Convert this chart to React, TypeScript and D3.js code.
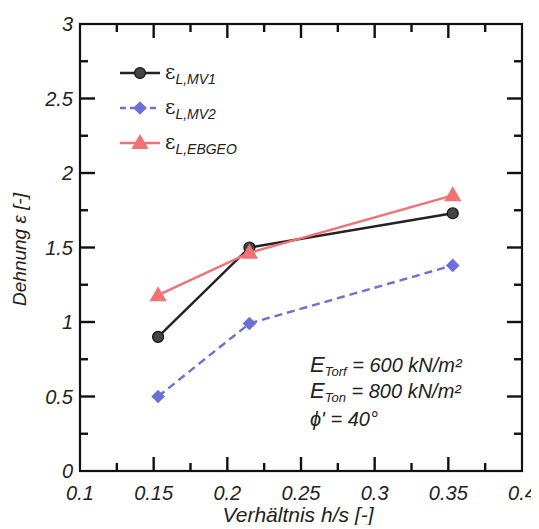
import React, { useEffect, useRef } from 'react';
import * as d3 from 'd3';

const ratios = [0.153, 0.215, 0.353];
const strainMV1 = [0.9, 1.5, 1.73];
const strainMV2 = [0.5, 0.99, 1.38];
const strainEBGEO = [1.18, 1.465, 1.85];
const xTicks = [0.1, 0.15, 0.2, 0.25, 0.3, 0.35, 0.4];
const yTicks = [0, 0.5, 1, 1.5, 2, 2.5, 3];

const series = [
  { sub: 'L,MV1', values: strainMV1, color: '#222222', marker: 'circle', dash: null },
  { sub: 'L,MV2', values: strainMV2, color: '#6c70d6', marker: 'diamond', dash: '8,5' },
  { sub: 'L,EBGEO', values: strainEBGEO, color: '#f07272', marker: 'triangle', dash: null },
];

const FONT = 'Liberation Sans, Arial, sans-serif';

export default function App() {
  const ref = useRef<SVGSVGElement>(null);

  useEffect(() => {
    const width = 539;
    const height = 529;
    const margin = { top: 24, left: 80, bottom: 58, right: 17 };
    const iwidth = width - margin.left - margin.right;
    const iheight = height - margin.top - margin.bottom;

    const svg = d3.select(ref.current);
    svg.selectAll('*').remove();
    svg.attr('width', width).attr('height', height);

    const g = svg.append('g').attr('transform', `translate(${margin.left},${margin.top})`);

    const x = d3.scaleLinear().domain([0.1, 0.4]).range([0, iwidth]);
    const y = d3.scaleLinear().domain([0, 3]).range([iheight, 0]);

    g.append('rect')
      .attr('width', iwidth)
      .attr('height', iheight)
      .attr('fill', 'none')
      .attr('stroke', '#111')
      .attr('stroke-width', 2.2);

    // inward ticks on all four sides
    const xMajor = xTicks.slice(1, -1);
    const yMajor = yTicks.slice(1, -1);
    const xMinor = d3.range(0.125, 0.4, 0.05);
    const yMinor = d3.range(0.25, 3, 0.5);
    const ticks = g.append('g');
    const tick = (ax, ay, bx, by) =>
      ticks.append('line')
        .attr('x1', ax).attr('y1', ay).attr('x2', bx).attr('y2', by)
        .attr('stroke', '#111').attr('stroke-width', 2.4);
    xMajor.forEach((t) => {
      tick(x(t), iheight, x(t), iheight - 14);
      tick(x(t), 0, x(t), 14);
    });
    xMinor.forEach((t) => {
      tick(x(t), iheight, x(t), iheight - 8);
      tick(x(t), 0, x(t), 8);
    });
    yMajor.forEach((t) => {
      tick(0, y(t), 15, y(t));
      tick(iwidth, y(t), iwidth - 15, y(t));
    });
    yMinor.forEach((t) => {
      tick(0, y(t), 8, y(t));
      tick(iwidth, y(t), iwidth - 8, y(t));
    });

    // tick labels
    g.selectAll('.xl')
      .data(xTicks)
      .enter()
      .append('text')
      .attr('x', (d) => x(d))
      .attr('y', iheight + 29)
      .attr('text-anchor', 'middle')
      .attr('font-family', FONT)
      .attr('font-style', 'italic')
      .attr('font-size', 20)
      .attr('fill', '#222')
      .text((d) => String(d));

    g.selectAll('.yl')
      .data(yTicks)
      .enter()
      .append('text')
      .attr('x', -7)
      .attr('y', (d) => y(d) + 7)
      .attr('text-anchor', 'end')
      .attr('font-family', FONT)
      .attr('font-style', 'italic')
      .attr('font-size', 20)
      .attr('fill', '#222')
      .text((d) => String(d));

    // axis titles
    svg.append('text')
      .attr('x', margin.left + iwidth / 2 - 3)
      .attr('y', height - 7)
      .attr('text-anchor', 'middle')
      .attr('font-family', FONT)
      .attr('font-style', 'italic')
      .attr('font-size', 21)
      .attr('fill', '#222')
      .text('Verhältnis h/s [-]');

    svg.append('text')
      .attr('transform', `translate(26,${margin.top + iheight / 2 + 2}) rotate(-90)`)
      .attr('text-anchor', 'middle')
      .attr('font-family', FONT)
      .attr('font-style', 'italic')
      .attr('font-size', 19)
      .attr('fill', '#222')
      .text('Dehnung ε [-]');

    const drawMarker = (sel, type, color, cx, cy) => {
      if (type === 'circle') {
        sel.append('circle').attr('cx', cx).attr('cy', cy).attr('r', 5.5).attr('fill', '#444').attr('stroke', '#111').attr('stroke-width', 1.2);
      } else if (type === 'diamond') {
        sel.append('path')
          .attr('d', d3.symbol().type(d3.symbolDiamond2).size(120)())
          .attr('transform', `translate(${cx},${cy})`)
          .attr('fill', color);
      } else {
        sel.append('path')
          .attr('d', d3.symbol().type(d3.symbolTriangle).size(130)())
          .attr('transform', `translate(${cx},${cy + 1})`)
          .attr('fill', color);
      }
    };

    const line = d3.line<number>().x((d, i) => x(ratios[i])).y((d) => y(d));

    series.forEach((s) => {
      g.append('path')
        .datum(s.values)
        .attr('d', line)
        .attr('fill', 'none')
        .attr('stroke', s.color)
        .attr('stroke-width', 2.4)
        .attr('stroke-dasharray', s.dash);
      s.values.forEach((v, i) => drawMarker(g, s.marker, s.color, x(ratios[i]), y(v)));
    });

    // legend
    const leg = g.append('g');
    series.forEach((s, i) => {
      const ly = 49 + i * 35;
      leg.append('line')
        .attr('x1', 40).attr('x2', 80).attr('y1', ly).attr('y2', ly)
        .attr('stroke', s.color).attr('stroke-width', 2.4)
        .attr('stroke-dasharray', s.dash ? '6,4' : null);
      drawMarker(leg, s.marker, s.color, 60, ly);
      const t = leg.append('text')
        .attr('x', 85).attr('y', ly + 6)
        .attr('font-family', FONT)
        .attr('fill', '#222');
      t.append('tspan').attr('font-size', 20).attr('font-family', 'DejaVu Serif, serif').text('ε');
      t.append('tspan').attr('font-size', 14).attr('font-style', 'italic').attr('dy', 5).text(s.sub);
    });

    // annotation
    const ann = g.append('g')
      .attr('font-family', FONT)
      .attr('font-style', 'italic')
      .attr('fill', '#222');
    const a1 = ann.append('text').attr('x', 230).attr('y', 348);
    a1.append('tspan').attr('font-size', 22).text('E');
    a1.append('tspan').attr('font-size', 13).attr('dy', 4).text('Torf');
    a1.append('tspan').attr('font-size', 20).attr('dy', -4).text(' = 600 kN/m²');
    const a2 = ann.append('text').attr('x', 230).attr('y', 374);
    a2.append('tspan').attr('font-size', 22).text('E');
    a2.append('tspan').attr('font-size', 13).attr('dy', 4).text('Ton');
    a2.append('tspan').attr('font-size', 20).attr('dy', -4).text(' = 800 kN/m²');
    ann.append('text').attr('x', 230).attr('y', 402).attr('font-size', 20).text("ϕ' = 40°");
  });

  return (
    <div id="chartArea" style={{ margin: -8 }}>
      <svg ref={ref}></svg>
    </div>
  );
}
